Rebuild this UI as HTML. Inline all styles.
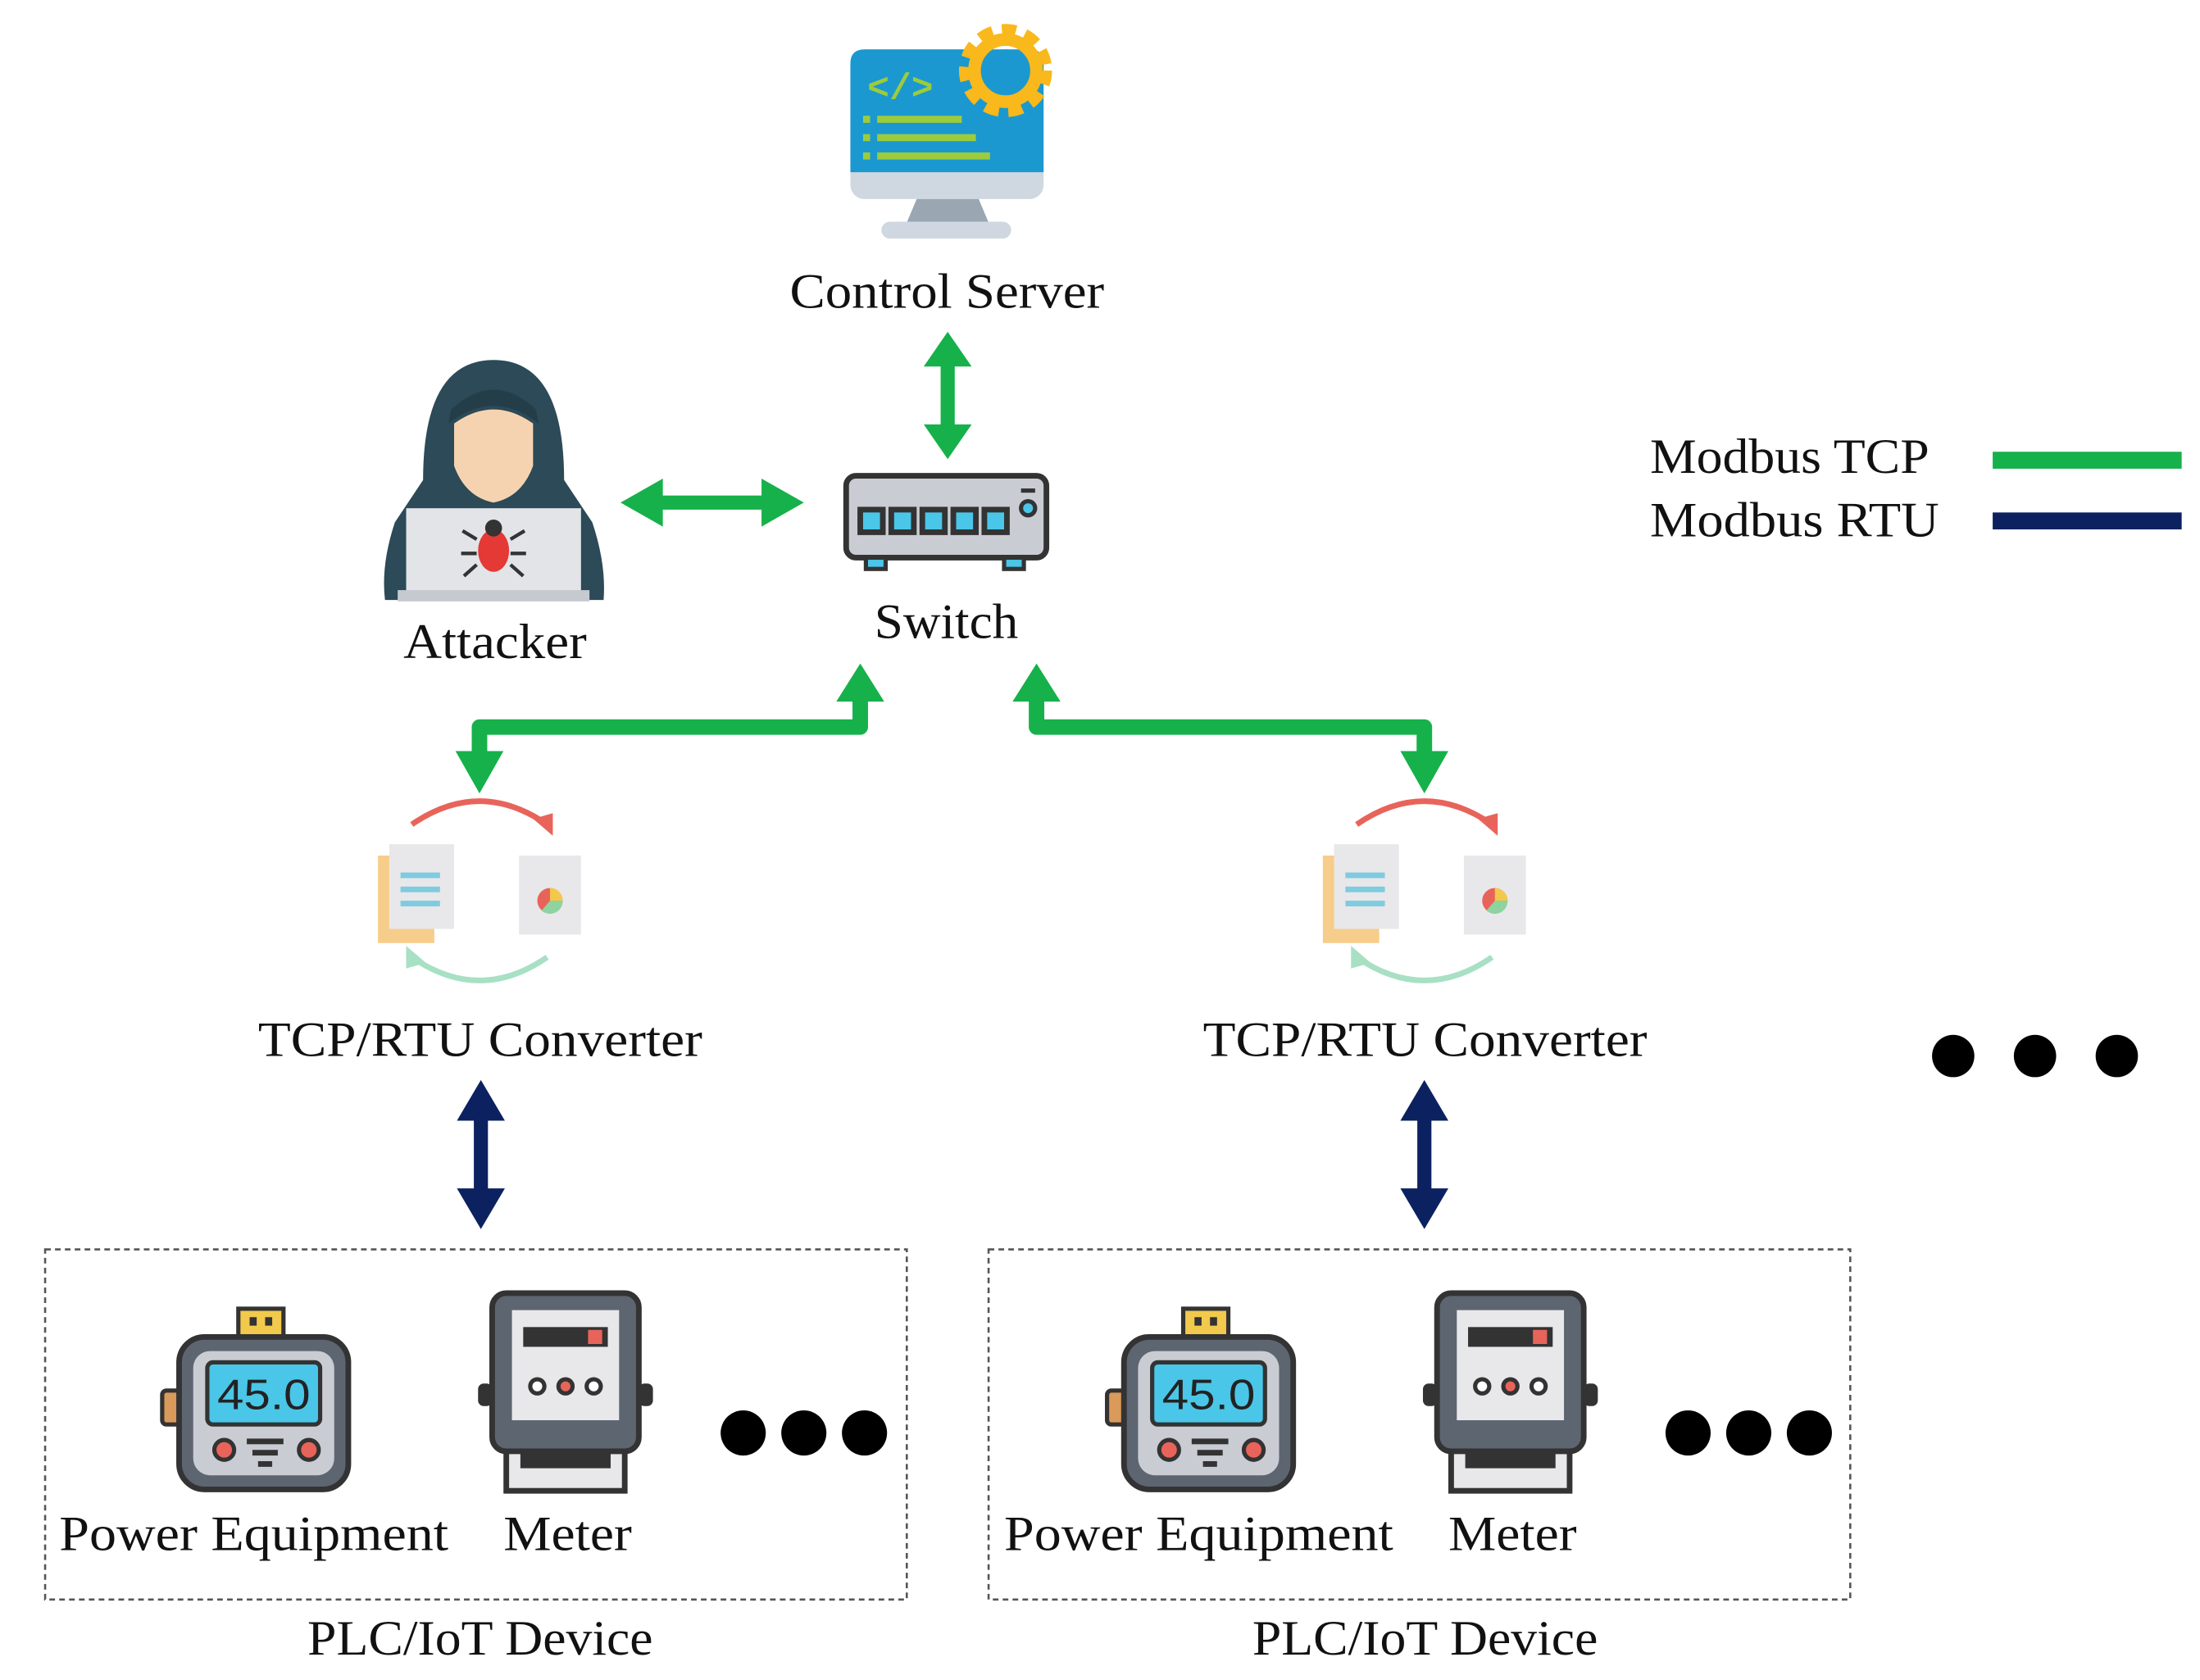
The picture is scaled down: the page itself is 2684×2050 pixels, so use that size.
<!DOCTYPE html>
<html><head><meta charset="utf-8"><style>html,body{margin:0;padding:0;background:#fff}svg{display:block}text{font-family:"Liberation Serif",serif;fill:#111}</style></head><body>
<svg width="2684" height="2050" viewBox="0 0 1560 1190" preserveAspectRatio="none" xmlns="http://www.w3.org/2000/svg">
<defs>
<g id="dblv"><rect x="-5" y="28" width="10" height="55" /><polygon points="0,0 -17,30 17,30"/><polygon points="0,110 -17,80 17,80"/></g>
<g id="conv">
<path d="M-48,-52 Q0,-85 48,-52" fill="none" stroke="#e8645a" stroke-width="4"/><polygon points="52,-44 38,-56 52,-60" fill="#e8645a"/>
<rect x="-72" y="-30" width="40" height="62" fill="#f7cd8b"/><rect x="-64" y="-38" width="46" height="60" fill="#e8e8ea"/>
<rect x="-56" y="-18" width="28" height="4" fill="#7fcbe0"/><rect x="-56" y="-8" width="28" height="4" fill="#7fcbe0"/><rect x="-56" y="2" width="28" height="4" fill="#7fcbe0"/>
<rect x="28" y="-30" width="44" height="56" fill="#e8e8ea"/><circle cx="50" cy="2" r="9" fill="#e8645a"/><path d="M50,2 L50,-7 A9,9 0 0 1 59,2 Z" fill="#f2c94c"/><path d="M50,2 L59,2 A9,9 0 0 1 44,9 Z" fill="#8fd3a0"/>
<path d="M48,42 Q0,75 -48,42" fill="none" stroke="#a8e0c4" stroke-width="4"/><polygon points="-52,34 -38,46 -52,50" fill="#a8e0c4"/>
</g>
<g id="power">
<rect x="-16" y="-58" width="32" height="22" fill="#f2c94c" stroke="#333" stroke-width="3"/><rect x="-8" y="-52" width="5" height="6" fill="#333"/><rect x="3" y="-52" width="5" height="6" fill="#333"/>
<rect x="-70" y="0" width="14" height="24" rx="3" fill="#d99a5a" stroke="#333" stroke-width="3"/>
<rect x="-58" y="-38" width="120" height="108" rx="18" fill="#5d6570" stroke="#333" stroke-width="4"/>
<rect x="-48" y="-28" width="100" height="88" rx="12" fill="#c9ccd3"/>
<rect x="-38" y="-20" width="80" height="44" rx="4" fill="#4ac6e8" stroke="#333" stroke-width="3"/>
<text x="2" y="13" font-size="30" text-anchor="middle" textLength="66" lengthAdjust="spacingAndGlyphs" style="fill:#222;font-family:'Liberation Sans',sans-serif">45.0</text>
<circle cx="-26" cy="42" r="7" fill="#e8645a" stroke="#333" stroke-width="3"/><circle cx="34" cy="42" r="7" fill="#e8645a" stroke="#333" stroke-width="3"/>
<rect x="-10" y="34" width="26" height="4" fill="#333"/><rect x="-6" y="42" width="18" height="4" fill="#333"/><rect x="-2" y="50" width="10" height="4" fill="#333"/>
</g>
<g id="meter">
<rect x="-62" y="10" width="10" height="16" rx="4" fill="#333"/><rect x="52" y="10" width="10" height="16" rx="4" fill="#333"/>
<rect x="-52" y="-54" width="104" height="112" rx="10" fill="#5d6570" stroke="#333" stroke-width="4"/>
<rect x="-38" y="-42" width="76" height="78" fill="#e8e8ea"/>
<rect x="-30" y="-30" width="60" height="14" fill="#333"/><rect x="16" y="-28" width="10" height="10" fill="#e8645a"/>
<circle cx="-20" cy="12" r="5" fill="#fff" stroke="#333" stroke-width="3"/><circle cx="0" cy="12" r="5" fill="#e8645a" stroke="#333" stroke-width="3"/><circle cx="20" cy="12" r="5" fill="#fff" stroke="#333" stroke-width="3"/>
<rect x="-42" y="58" width="84" height="28" fill="#e8e8ea" stroke="#333" stroke-width="4"/><rect x="-32" y="58" width="64" height="12" fill="#333"/>
</g>
</defs>

<!-- Control server -->
<rect x="603" y="35" width="137" height="106" rx="10" fill="#cfd8e0"/>
<path d="M613,35 H730 Q740,35 740,45 V122 H603 V45 Q603,35 613,35Z" fill="#1b98d0"/>
<text x="615" y="70" font-size="26" font-weight="bold" style="fill:#9ccc3c;font-family:'Liberation Mono',monospace">&lt;/&gt;</text>
<rect x="622" y="82" width="60" height="5" fill="#9ccc3c"/><rect x="622" y="95" width="70" height="5" fill="#9ccc3c"/><rect x="622" y="108" width="80" height="5" fill="#9ccc3c"/>
<rect x="612" y="82" width="5" height="5" fill="#9ccc3c"/><rect x="612" y="95" width="5" height="5" fill="#9ccc3c"/><rect x="612" y="108" width="5" height="5" fill="#9ccc3c"/>
<polygon points="650,141 694,141 702,160 642,160" fill="#9aa6b2"/><rect x="625" y="157" width="92" height="12" rx="6" fill="#cfd8e0"/>
<circle cx="713" cy="50" r="26" fill="none" stroke="#f9b81b" stroke-width="14" stroke-dasharray="9 6"/>
<circle cx="713" cy="50" r="22" fill="none" stroke="#f9b81b" stroke-width="9"/>
<circle cx="713" cy="50" r="15" fill="#1b98d0"/>
<text x="560" y="218" font-size="35" textLength="223" lengthAdjust="spacingAndGlyphs">Control Server</text>

<g fill="#16b14a">
<use href="#dblv" transform="translate(672,235) scale(1,0.82)"/>
<rect x="465" y="351" width="80" height="10"/><polygon points="440,356 470,339 470,373"/><polygon points="570,356 540,339 540,373"/>
<path d="M610,490 V515 H340 V535" fill="none" stroke="#16b14a" stroke-width="11" stroke-linejoin="round"/>
<polygon points="610,470 593,497 627,497"/><polygon points="340,562 323,532 357,532"/>
<path d="M735,490 V515 H1010 V535" fill="none" stroke="#16b14a" stroke-width="11" stroke-linejoin="round"/>
<polygon points="735,470 718,497 752,497"/><polygon points="1010,562 993,532 1027,532"/>
</g>

<!-- Switch -->
<rect x="600" y="337" width="142" height="58" rx="7" fill="#c9ccd3" stroke="#333" stroke-width="4"/>
<rect x="610" y="361" width="16" height="16" fill="#4ac6e8" stroke="#333" stroke-width="4"/><rect x="632" y="361" width="16" height="16" fill="#4ac6e8" stroke="#333" stroke-width="4"/><rect x="654" y="361" width="16" height="16" fill="#4ac6e8" stroke="#333" stroke-width="4"/><rect x="676" y="361" width="16" height="16" fill="#4ac6e8" stroke="#333" stroke-width="4"/><rect x="698" y="361" width="16" height="16" fill="#4ac6e8" stroke="#333" stroke-width="4"/>
<circle cx="729" cy="360" r="5" fill="#4ac6e8" stroke="#333" stroke-width="3"/><rect x="724" y="346" width="10" height="3" fill="#333"/>
<rect x="614" y="395" width="14" height="8" fill="#4ac6e8" stroke="#333" stroke-width="3"/><rect x="712" y="395" width="14" height="8" fill="#4ac6e8" stroke="#333" stroke-width="3"/>
<text x="620" y="452" font-size="35" textLength="102" lengthAdjust="spacingAndGlyphs">Switch</text>

<!-- Attacker -->
<path d="M300,340 Q300,255 350,255 Q400,255 400,340 L420,370 Q430,400 428,425 H273 Q270,400 280,370 Z" fill="#2c4a57"/>
<path d="M322,300 Q350,280 378,300 V330 Q370,352 350,356 Q330,352 322,330 Z" fill="#f6d3b0"/>
<path d="M318,300 Q350,275 382,300 L380,290 Q350,262 320,290Z" fill="#243e49"/>
<rect x="288" y="360" width="124" height="60" fill="#e2e4e8"/><rect x="282" y="418" width="136" height="8" fill="#c6cad0"/>
<ellipse cx="350" cy="390" rx="11" ry="15" fill="#e53935"/><circle cx="350" cy="374" r="6" fill="#333"/>
<path d="M338,382 L328,376 M338,392 L327,392 M338,400 L329,408 M362,382 L372,376 M362,392 L373,392 M362,400 L371,408" stroke="#333" stroke-width="2.5"/>
<text x="286" y="466" font-size="35" textLength="130" lengthAdjust="spacingAndGlyphs">Attacker</text>

<!-- Converters -->
<use href="#conv" transform="translate(340,636)"/>
<use href="#conv" transform="translate(1010,636)"/>
<text x="183" y="748" font-size="35" textLength="315" lengthAdjust="spacingAndGlyphs">TCP/RTU Converter</text>
<text x="853" y="748" font-size="35" textLength="315" lengthAdjust="spacingAndGlyphs">TCP/RTU Converter</text>

<g fill="#0b2160">
<use href="#dblv" transform="translate(341,765) scale(1,0.96)"/>
<use href="#dblv" transform="translate(1010,765) scale(1,0.96)"/>
</g>

<!-- Legend -->
<text x="1170" y="335" font-size="35" textLength="198" lengthAdjust="spacingAndGlyphs">Modbus TCP</text>
<text x="1170" y="380" font-size="35" textLength="205" lengthAdjust="spacingAndGlyphs">Modbus RTU</text>
<rect x="1413" y="320" width="134" height="12" fill="#16b14a"/>
<rect x="1413" y="363" width="134" height="12" fill="#0b2160"/>

<g fill="#000">
<circle cx="1385" cy="748" r="15"/><circle cx="1443" cy="748" r="15"/><circle cx="1501" cy="748" r="15"/>
</g>

<!-- Device boxes -->
<rect x="32" y="885" width="611" height="248" fill="none" stroke="#555" stroke-width="1.5" stroke-dasharray="4 3"/>
<rect x="701" y="885" width="611" height="248" fill="none" stroke="#555" stroke-width="1.5" stroke-dasharray="4 3"/>
<use href="#power" transform="translate(185,985)"/>
<use href="#meter" transform="translate(401,970)"/>
<use href="#power" transform="translate(855,985)"/>
<use href="#meter" transform="translate(1071,970)"/>
<g fill="#000">
<circle cx="527" cy="1015" r="16"/><circle cx="570" cy="1015" r="16"/><circle cx="613" cy="1015" r="16"/>
<circle cx="1197" cy="1015" r="16"/><circle cx="1240" cy="1015" r="16"/><circle cx="1283" cy="1015" r="16"/>
</g>
<text x="42" y="1098" font-size="35" textLength="276" lengthAdjust="spacingAndGlyphs">Power Equipment</text>
<text x="357" y="1098" font-size="35" textLength="91" lengthAdjust="spacingAndGlyphs">Meter</text>
<text x="712" y="1098" font-size="35" textLength="276" lengthAdjust="spacingAndGlyphs">Power Equipment</text>
<text x="1027" y="1098" font-size="35" textLength="91" lengthAdjust="spacingAndGlyphs">Meter</text>
<text x="218" y="1172" font-size="35" textLength="245" lengthAdjust="spacingAndGlyphs">PLC/IoT Device</text>
<text x="888" y="1172" font-size="35" textLength="245" lengthAdjust="spacingAndGlyphs">PLC/IoT Device</text>
</svg>
</body></html>
